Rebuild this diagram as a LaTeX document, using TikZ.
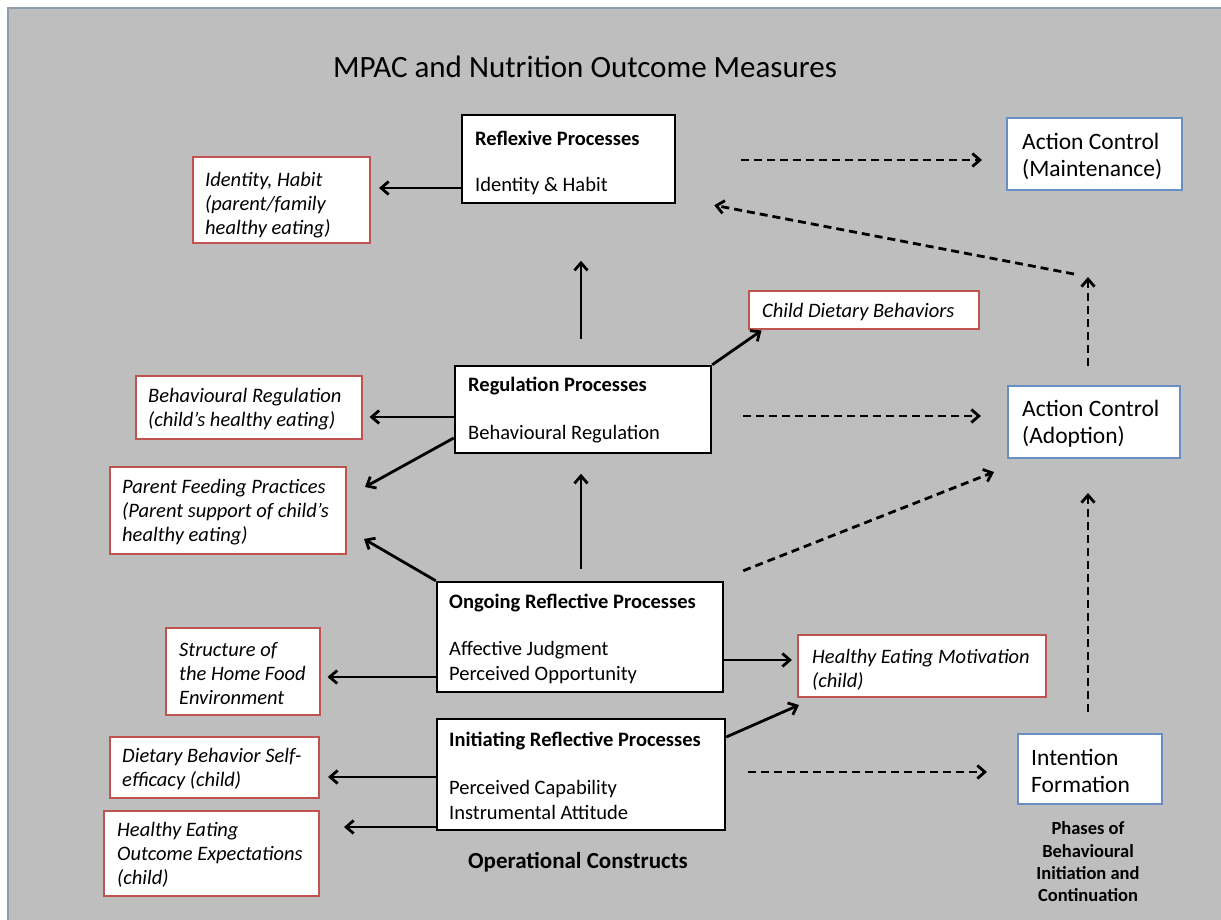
\documentclass[tikz,border=0pt]{standalone}
\usepackage{fontspec}
\setmainfont{Carlito}
\usetikzlibrary{arrows.meta,calc}
\definecolor{bggray}{RGB}{190,190,190}
\definecolor{redline}{RGB}{192,82,80}
\definecolor{blueline}{RGB}{104,142,196}
\definecolor{frameline}{RGB}{146,156,176}

\begin{document}
\begin{tikzpicture}[x=1pt,y=-1pt,
  blackbox/.style={draw=black, line width=2.5pt, fill=white, inner sep=0pt},
  redbox/.style={draw=redline, line width=2pt, fill=white, inner sep=0pt},
  bluebox/.style={draw=blueline, line width=2pt, fill=white, inner sep=0pt},
  head/.style={inner sep=0pt, anchor=west, font=\fontsize{20.5}{25}\selectfont\bfseries},
  body/.style={inner sep=0pt, anchor=west, align=left, font=\fontsize{20.5}{25}\selectfont},
  outc/.style={inner sep=0pt, anchor=west, align=left, font=\fontsize{20.5}{24}\selectfont\itshape},
  phase/.style={inner sep=0pt, anchor=west, align=left, font=\fontsize{23.5}{27}\selectfont},
  arr/.style={line width=2.8pt, -{Straight Barb[length=7.5pt,width=13pt]}},
  darr/.style={line width=2.8pt, dash pattern=on 8pt off 5pt, -{Straight Barb[length=7.5pt,width=13pt]}},
]
\useasboundingbox (0,0) rectangle (1221,920);

% background panel
\fill[white] (0,0) rectangle (1221,920);
\fill[bggray] (7,7) rectangle (1221,920);
\draw[frameline, line width=2pt] (8,920) -- (8,8) -- (1221,8);

% title
\node[inner sep=0pt, font=\fontsize{31}{34}\selectfont] (title) at (585,67) {MPAC and Nutrition Outcome Measures};

% construct boxes
\node[blackbox, minimum width=213pt, minimum height=88pt] (refl) at (568.5,159) {};
\node[blackbox, minimum width=256pt, minimum height=87pt] (reg) at (583,409.5) {};
\node[blackbox, minimum width=286pt, minimum height=110pt] (ong) at (580,637) {};
\node[blackbox, minimum width=288pt, minimum height=111pt] (ini) at (581,774.5) {};

\node[head] (reflT) at (475,138) {Reflexive Processes};
\node[body] (reflB) at (475,186) {Identity \& Habit};
\node[head] (regT) at (468,386) {Regulation Processes};
\node[body] (regB) at (468,434) {Behavioural Regulation};
\node[head] (ongT) at (449,603) {Ongoing Reflective Processes};
\node[body] (ongB) at (449,662.5) {Affective Judgment\\Perceived Opportunity};
\node[head] (iniT) at (449,741) {Initiating Reflective Processes};
\node[body] (iniB) at (449,799.5) {Perceived Capability\\Instrumental Attitude};

% outcome measure boxes
\node[redbox, minimum width=177pt, minimum height=86pt] (idh) at (281.5,200) {};
\node[redbox, minimum width=230pt, minimum height=38pt] (cdb) at (863.5,309.5) {};
\node[redbox, minimum width=226pt, minimum height=63pt] (br) at (248.5,407) {};
\node[redbox, minimum width=236pt, minimum height=87pt] (pfp) at (228,510.5) {};
\node[redbox, minimum width=154pt, minimum height=87pt] (shf) at (242.5,671.5) {};
\node[redbox, minimum width=248pt, minimum height=62pt] (hem) at (922,666) {};
\node[redbox, minimum width=209pt, minimum height=61pt] (dbs) at (214.5,767.5) {};
\node[redbox, minimum width=215pt, minimum height=85pt] (heo) at (211.5,853.5) {};

\node[outc] (idhT) at (205,205) {Identity, Habit\\(parent/family\\healthy eating)};
\node[outc] (cdbT) at (762,312) {Child Dietary Behaviors};
\node[outc] (brT) at (148,409) {Behavioural Regulation\\(child’s healthy eating)};
\node[outc] (pfpT) at (122,512) {Parent Feeding Practices\\(Parent support of child’s\\healthy eating)};
\node[outc] (shfT) at (179,674) {Structure of\\the Home Food\\Environment};
\node[outc] (hemT) at (812,670) {Healthy Eating Motivation\\(child)};
\node[outc] (dbsT) at (122,769) {Dietary Behavior Self-\\efficacy (child)};
\node[outc] (heoT) at (117,855) {Healthy Eating\\Outcome Expectations\\(child)};

% phase boxes
\node[bluebox, minimum width=175pt, minimum height=72pt] (acm) at (1094.5,154) {};
\node[bluebox, minimum width=172pt, minimum height=72pt] (aca) at (1094,422) {};
\node[bluebox, minimum width=144pt, minimum height=70pt] (intf) at (1090,769) {};

\node[phase] (acmT) at (1022,156.5) {Action Control\\(Maintenance)};
\node[phase] (acaT) at (1022,424) {Action Control\\(Adoption)};
\node[phase] (intfT) at (1031,771) {Intention\\Formation};

% captions
\node[inner sep=0pt, font=\fontsize{23}{26}\selectfont\bfseries] (opc) at (578,862) {Operational Constructs};
\node[inner sep=0pt, align=center, font=\fontsize{18.5}{22.3}\selectfont\bfseries] (phc) at (1088,862) {Phases of\\Behavioural\\Initiation and\\Continuation};

% solid connectors: constructs to outcome measures
\draw[arr] ($(refl.west)+(0,29)$) -- ($(idh.east)+(8,-12)$);
\draw[arr] (reg.north east) -- ($(cdb.south west)+(14,1)$);
\draw[arr] ($(reg.west)+(0,7.5)$) -- ($(br.east)+(7,10)$);
\draw[arr] ($(reg.west)+(0,28.5)$) -- ($(pfp.east)+(18,-23.5)$);
\draw[arr] (ong.north west) -- ($(pfp.south east)+(17,-16)$);
\draw[arr] ($(ong.west)+(0,40)$) -- ($(shf.east)+(7,5.5)$);
\draw[arr] ($(ong.east)+(0,23)$) -- ($(hem.west)+(-5,-6)$);
\draw[arr] ($(ini.east)+(0,-37.5)$) -- ($(hem.south west)+(2,7)$);
\draw[arr] ($(ini.west)+(0,2.5)$) -- ($(dbs.east)+(8,9.5)$);
\draw[arr] ($(ini.west)+(0,52.5)$) -- ($(heo.east)+(24,-26.5)$);

% solid connectors: between construct levels
\draw[arr] ($(reg.north)+(-2,-26)$) -- ($(reg.north)+(-2,-104)$);
\draw[arr] ($(ong.north)+(1,-12)$) -- ($(ong.north)+(1,-107)$);

% dashed connectors: phases
\draw[darr] ($(refl.east)+(65,1)$) -- ($(acm.west)+(-24,6)$);
\draw[darr] ($(aca.north)+(-20,-111)$) -- ($(refl.south east)+(38,1)$);
\draw[darr] ($(aca.north)+(-6,-19)$) -- ($(aca.north)+(-6,-108)$);
\draw[darr] ($(reg.east)+(31,6.5)$) -- ($(aca.west)+(-26,-6)$);
\draw[darr] ($(ong.north east)+(19,-10)$) -- ($(aca.south west)+(-13,13)$);
\draw[darr] ($(ini.east)+(22,-2.5)$) -- ($(intf.west)+(-30,3)$);
\draw[darr] ($(intf.north)+(-2,-21)$) -- ($(aca.south)+(-6,34)$);
\end{tikzpicture}
\end{document}
